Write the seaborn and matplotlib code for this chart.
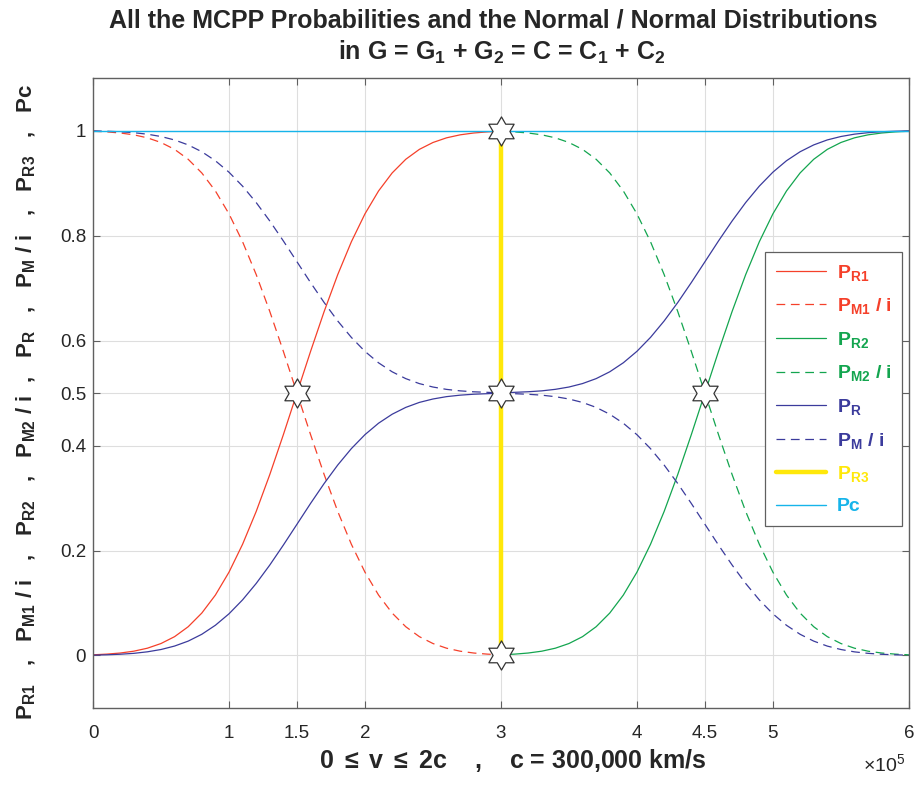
import numpy as np
import pandas as pd
import seaborn as sns
import matplotlib
matplotlib.use("Agg")
import matplotlib.pyplot as plt
from matplotlib.path import Path

# ---------------- data (v in units of 1e5 km/s) ----------------
v_left = [0.0, 0.1, 0.2, 0.3, 0.4, 0.5, 0.6, 0.7, 0.8, 0.9, 1.0, 1.1, 1.2, 1.3, 1.4, 1.5,
          1.6, 1.7, 1.8, 1.9, 2.0, 2.1, 2.2, 2.3, 2.4, 2.5, 2.6, 2.7, 2.8, 2.9, 3.0]
v_right = [3.0, 3.1, 3.2, 3.3, 3.4, 3.5, 3.6, 3.7, 3.8, 3.9, 4.0, 4.1, 4.2, 4.3, 4.4, 4.5,
           4.6, 4.7, 4.8, 4.9, 5.0, 5.1, 5.2, 5.3, 5.4, 5.5, 5.6, 5.7, 5.8, 5.9, 6.0]
v_all = [0.0, 0.1, 0.2, 0.3, 0.4, 0.5, 0.6, 0.7, 0.8, 0.9, 1.0, 1.1, 1.2, 1.3, 1.4, 1.5,
         1.6, 1.7, 1.8, 1.9, 2.0, 2.1, 2.2, 2.3, 2.4, 2.5, 2.6, 2.7, 2.8, 2.9, 3.0,
         3.1, 3.2, 3.3, 3.4, 3.5, 3.6, 3.7, 3.8, 3.9, 4.0, 4.1, 4.2, 4.3, 4.4, 4.5,
         4.6, 4.7, 4.8, 4.9, 5.0, 5.1, 5.2, 5.3, 5.4, 5.5, 5.6, 5.7, 5.8, 5.9, 6.0]

P_R1 = [0.0013, 0.0026, 0.0047, 0.0082, 0.0139, 0.0228, 0.0359, 0.0548, 0.0808, 0.1151,
        0.1587, 0.2119, 0.2743, 0.3446, 0.4207, 0.5, 0.5793, 0.6554, 0.7257, 0.7881,
        0.8413, 0.8849, 0.9192, 0.9452, 0.9641, 0.9772, 0.9861, 0.9918, 0.9953, 0.9974, 0.9987]
P_M1 = [0.9987, 0.9974, 0.9953, 0.9918, 0.9861, 0.9772, 0.9641, 0.9452, 0.9192, 0.8849,
        0.8413, 0.7881, 0.7257, 0.6554, 0.5793, 0.5, 0.4207, 0.3446, 0.2743, 0.2119,
        0.1587, 0.1151, 0.0808, 0.0548, 0.0359, 0.0228, 0.0139, 0.0082, 0.0047, 0.0026, 0.0013]
P_R2 = [0.0013, 0.0026, 0.0047, 0.0082, 0.0139, 0.0228, 0.0359, 0.0548, 0.0808, 0.1151,
        0.1587, 0.2119, 0.2743, 0.3446, 0.4207, 0.5, 0.5793, 0.6554, 0.7257, 0.7881,
        0.8413, 0.8849, 0.9192, 0.9452, 0.9641, 0.9772, 0.9861, 0.9918, 0.9953, 0.9974, 0.9987]
P_M2 = [0.9987, 0.9974, 0.9953, 0.9918, 0.9861, 0.9772, 0.9641, 0.9452, 0.9192, 0.8849,
        0.8413, 0.7881, 0.7257, 0.6554, 0.5793, 0.5, 0.4207, 0.3446, 0.2743, 0.2119,
        0.1587, 0.1151, 0.0808, 0.0548, 0.0359, 0.0228, 0.0139, 0.0082, 0.0047, 0.0026, 0.0013]
P_R = [0.0007, 0.0013, 0.0024, 0.0041, 0.0070, 0.0114, 0.0180, 0.0274, 0.0404, 0.0576,
       0.0794, 0.1060, 0.1372, 0.1723, 0.2104, 0.25, 0.2897, 0.3277, 0.3629, 0.3941,
       0.4207, 0.4425, 0.4596, 0.4726, 0.4821, 0.4886, 0.4931, 0.4959, 0.4977, 0.4987, 0.5,
       0.5013, 0.5024, 0.5041, 0.5070, 0.5114, 0.5180, 0.5274, 0.5404, 0.5576, 0.5794,
       0.6060, 0.6372, 0.6723, 0.7104, 0.75, 0.7897, 0.8277, 0.8629, 0.8941, 0.9207,
       0.9425, 0.9596, 0.9726, 0.9821, 0.9886, 0.9931, 0.9959, 0.9977, 0.9987, 0.9994]
P_M = [0.9993, 0.9987, 0.9976, 0.9959, 0.9930, 0.9886, 0.9820, 0.9726, 0.9596, 0.9424,
       0.9206, 0.8940, 0.8628, 0.8277, 0.7896, 0.75, 0.7103, 0.6723, 0.6371, 0.6059,
       0.5793, 0.5575, 0.5404, 0.5274, 0.5179, 0.5114, 0.5069, 0.5041, 0.5023, 0.5013, 0.5,
       0.4987, 0.4976, 0.4959, 0.4930, 0.4886, 0.4820, 0.4726, 0.4596, 0.4424, 0.4206,
       0.3940, 0.3628, 0.3277, 0.2896, 0.25, 0.2103, 0.1723, 0.1371, 0.1059, 0.0793,
       0.0575, 0.0404, 0.0274, 0.0179, 0.0114, 0.0069, 0.0041, 0.0023, 0.0013, 0.0006]
R3_v = [3.0, 3.0]
P_R3 = [0.0, 1.0]
Pc_v = [0.0, 6.0]
Pc = [1.0, 1.0]

star_v = [1.5, 3.0, 3.0, 3.0, 4.5]
star_p = [0.5, 1.0, 0.5, 0.0, 0.5]

x_ticks = [0, 1, 1.5, 2, 3, 4, 4.5, 5, 6]
x_labels = ["0", "1", "1.5", "2", "3", "4", "4.5", "5", "6"]
y_ticks = [0, 0.2, 0.4, 0.5, 0.6, 0.8, 1]
y_labels = ["0", "0.2", "0.4", "0.5", "0.6", "0.8", "1"]

# ---------------- style ----------------
sns.set_style("ticks")
plt.rcParams["font.family"] = ["Liberation Sans", "DejaVu Sans"]
plt.rcParams["mathtext.fontset"] = "custom"
plt.rcParams["mathtext.rm"] = "Liberation Sans"
plt.rcParams["mathtext.it"] = "Liberation Sans:italic"
plt.rcParams["mathtext.bf"] = "Liberation Sans:bold"

RED = "#F5402A"
GREEN = "#13A54F"
BLUE = "#3B3B9C"
YELLOW = "#FFE80A"
CYAN = "#16B4EA"
TXT = "#262626"

fig = plt.figure(figsize=(9.19, 7.85), dpi=100)
ax = fig.add_axes([0.1012, 0.0981, 0.8878, 0.8025])

lw = 0.9
dash = (7, 4.5)
sns.lineplot(x=v_left, y=P_R1, ax=ax, color=RED, lw=lw, estimator=None,
             label=r"$\mathbf{P_{R1}}$")
sns.lineplot(x=v_left, y=P_M1, ax=ax, color=RED, lw=lw, estimator=None,
             linestyle=(0, dash), label=r"$\mathbf{P_{M1}}$ / i")
sns.lineplot(x=v_right, y=P_R2, ax=ax, color=GREEN, lw=lw, estimator=None,
             label=r"$\mathbf{P_{R2}}$")
sns.lineplot(x=v_right, y=P_M2, ax=ax, color=GREEN, lw=lw, estimator=None,
             linestyle=(0, dash), label=r"$\mathbf{P_{M2}}$ / i")
sns.lineplot(x=v_all, y=P_R, ax=ax, color=BLUE, lw=lw, estimator=None,
             label=r"$\mathbf{P_{R}}$")
sns.lineplot(x=v_all, y=P_M, ax=ax, color=BLUE, lw=lw, estimator=None,
             linestyle=(0, dash), label=r"$\mathbf{P_{M}}$ / i")
sns.lineplot(x=R3_v, y=P_R3, ax=ax, color=YELLOW, lw=3.2, estimator=None, sort=False,
             label=r"$\mathbf{P_{R3}}$")
sns.lineplot(x=Pc_v, y=Pc, ax=ax, color=CYAN, lw=1.0, estimator=None,
             label="Pc")

# hexagram marker
angles_out = np.deg2rad(90 + 60 * np.arange(6))
angles_in = np.deg2rad(120 + 60 * np.arange(6))
r_in = 1 / np.sqrt(3)
verts = []
for ao, ai in zip(angles_out, angles_in):
    verts.append((np.cos(ao), np.sin(ao)))
    verts.append((r_in * np.cos(ai), r_in * np.sin(ai)))
verts.append(verts[0])
codes = [Path.MOVETO] + [Path.LINETO] * 11 + [Path.CLOSEPOLY]
hexagram = Path(verts, codes)

sns.scatterplot(x=star_v, y=star_p, ax=ax, marker=hexagram, s=440,
                facecolor="white", edgecolor="#333333", linewidth=0.9,
                zorder=10, legend=False)

# ---------------- axes ----------------
ax.set_xlim(0, 6)
ax.set_ylim(-0.1, 1.1)
ax.set_xticks(x_ticks)
ax.set_xticklabels(x_labels)
ax.set_yticks(y_ticks)
ax.set_yticklabels(y_labels)
ax.grid(True, color="#DEDEDE", lw=0.8)
ax.set_axisbelow(True)
for s in ax.spines.values():
    s.set_color("#606060")
    s.set_linewidth(1.0)
ax.tick_params(direction="in", length=5, width=0.8, color="#606060",
               labelsize=13.5, labelcolor=TXT, top=True, right=True)
ax.tick_params(axis="x", pad=12)
ax.tick_params(axis="y", pad=5)

fig.text(0.5365, 1 - 28 / 785, "All the MCPP Probabilities and the Normal / Normal Distributions",
         ha="center", va="baseline", fontsize=18, fontweight="bold", color=TXT)
fig.text(0.546, 1 - 60 / 785,
         r"in G = G$\mathbf{_1}$ + G$\mathbf{_2}$ = C = C$\mathbf{_1}$ + C$\mathbf{_2}$",
         ha="center", va="baseline", fontsize=18, fontweight="bold", color=TXT)

ax.set_xlabel(r"0 $\mathbf{\leq}$ v $\mathbf{\leq}$ 2c    ,    c = 300,000 km/s",
              fontsize=18, fontweight="bold", color=TXT, labelpad=3)
ax.set_ylabel(r"$\mathbf{P_{R1}}$   ,   $\mathbf{P_{M1}}$ / i   ,   $\mathbf{P_{R2}}$   ,   "
              r"$\mathbf{P_{M2}}$ / i  ,   $\mathbf{P_{R}}$   ,   $\mathbf{P_{M}}$ / i   ,   "
              r"$\mathbf{P_{R3}}$   ,   Pc",
              fontsize=16, fontweight="bold", color=TXT)
ax.yaxis.set_label_coords(-0.067, 0.486)
ax.xaxis.set_label_coords(0.514, -0.062)
fig.text(0.985, 0.012, r"$\times10^5$", ha="right", va="bottom", fontsize=14,
         color=TXT)

leg = ax.legend(loc="upper right", bbox_to_anchor=(0.992, 0.724), borderaxespad=0,
                fancybox=False, framealpha=1, edgecolor="#606060",
                prop={"weight": "bold", "size": 14}, handlelength=2.6,
                labelspacing=0.7, handletextpad=0.55, borderpad=0.55)
leg.get_frame().set_linewidth(0.9)
for txt, col in zip(leg.get_texts(), [RED, RED, GREEN, GREEN, BLUE, BLUE, YELLOW, CYAN]):
    txt.set_color(col)

fig.savefig("out.png", dpi=100)
